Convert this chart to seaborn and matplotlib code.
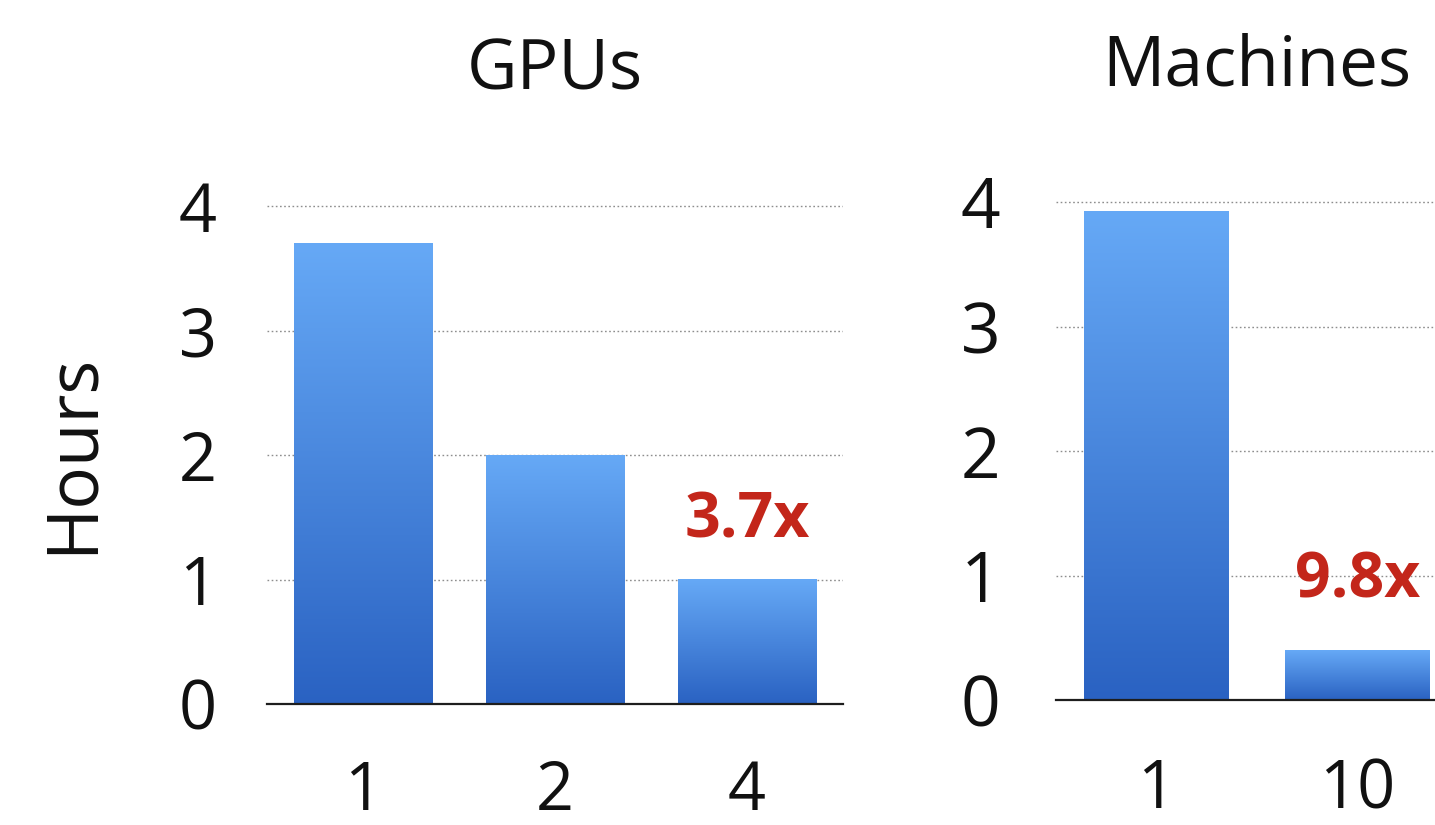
import numpy as np
import pandas as pd
import matplotlib
matplotlib.use("Agg")
import matplotlib.pyplot as plt
import seaborn as sns
from matplotlib.colors import to_rgb

# Training time (hours) when scaling out
gpu_counts = ["1", "2", "4"]
gpu_hours = [3.7, 2.0, 1.0]
machine_counts = ["1", "10"]
machine_hours = [3.92, 0.40]

panel_titles = ["GPUs", "Machines"]
speedup_labels = ["3.7x", "9.8x"]
y_ticks = [0, 1, 2, 3, 4]
y_label = "Hours"

sns.set_style("white")
plt.rcParams["font.family"] = ["Open Sans", "DejaVu Sans"]

BAR_TOP = to_rgb("#66a9f6")
BAR_BOTTOM = to_rgb("#2a62c2")
ACCENT = "#c3261a"

W, H = 1435, 825
fig = plt.figure(figsize=(W / 100, H / 100), dpi=100)

unit_px = 124.5
ymax = 4.04


def axes_rect(left_px, width_px, base_px):
    h_px = ymax * unit_px
    return [left_px / W, 1 - base_px / H, width_px / W, h_px / H]


ax_gpu = fig.add_axes(axes_rect(267, 576, 704))
ax_mach = fig.add_axes(axes_rect(1056, 402, 700))


def gradient_bars(ax):
    grad = np.linspace(0, 1, 256)[:, None, None]
    img = (1 - grad) * np.array(BAR_BOTTOM) + grad * np.array(BAR_TOP)
    xlim, ylim = ax.get_xlim(), ax.get_ylim()
    for p in ax.patches:
        x0, y0 = p.get_x(), p.get_y()
        w, h = p.get_width(), p.get_height()
        ax.imshow(img, extent=[x0, x0 + w, y0, y0 + h], origin="lower",
                  aspect="auto", zorder=2, interpolation="bicubic")
        p.set_visible(False)
    ax.set_xlim(xlim)
    ax.set_ylim(ylim)


def style_panel(ax, cats, vals, title, label, label_offset, label_size,
                tick_size, tick_pad, xpad):
    df = pd.DataFrame({"n": cats, "hours": vals})
    sns.barplot(data=df, x="n", y="hours", ax=ax, width=0.72,
                color="#4a86dc", saturation=1, errorbar=None)
    ax.set_ylim(0, ymax)
    ax.set_xlim(-0.5, len(cats) - 0.5)
    gradient_bars(ax)
    ax.set_yticks(y_ticks)
    ax.yaxis.grid(True, linestyle=(0, (1.2, 1.8)), color="#8e8e8e", lw=1.0, zorder=0)
    ax.set_axisbelow(True)
    for s in ("left", "right", "top"):
        ax.spines[s].set_visible(False)
    ax.spines["bottom"].set_color("#1e1e1e")
    ax.spines["bottom"].set_linewidth(1.6)
    ax.spines["bottom"].set_zorder(3)
    ax.tick_params(axis="y", length=0, labelsize=tick_size, pad=tick_pad, labelcolor="#111111")
    ax.tick_params(axis="x", length=0, labelsize=48, pad=xpad, labelcolor="#111111")
    ax.set_xlabel("")
    ax.set_ylabel("")
    ax.set_title(title, fontsize=50, pad=80, color="#111111")
    last = len(vals) - 1
    ax.annotate(label, xy=(last, vals[last]), xytext=(0, label_offset),
                textcoords="offset points", ha="center", va="center",
                fontsize=label_size, fontweight="bold", color=ACCENT, zorder=5)


style_panel(ax_gpu, gpu_counts, gpu_hours, panel_titles[0], speedup_labels[0],
            42, 45, 48, 36, 39)
style_panel(ax_mach, machine_counts, machine_hours, panel_titles[1], speedup_labels[1],
            50, 45, 50, 40, 41)

fig.text(73 / W, 1 - 453 / H, y_label, rotation=90, ha="center", va="center",
         fontsize=51, color="#111111")

fig.savefig("out.png", dpi=100, facecolor="white")
